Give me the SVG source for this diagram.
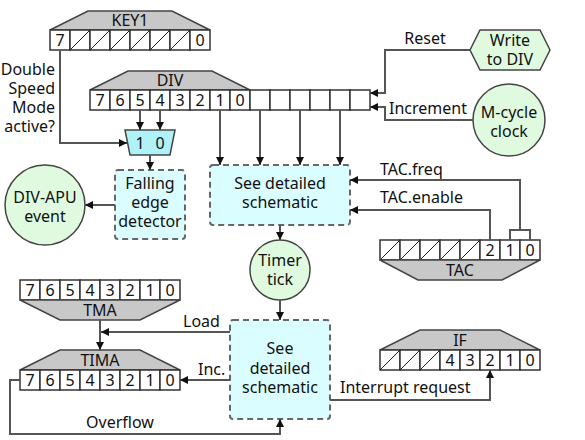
<svg xmlns="http://www.w3.org/2000/svg" width="585" height="440" viewBox="0 0 585 440">
<defs>
<marker id="ah" viewBox="0 0 8 8" refX="8" refY="4" markerWidth="8" markerHeight="8" markerUnits="userSpaceOnUse" orient="auto"><path d="M0,0 L8,4 L0,8 z" fill="#111"/></marker>
</defs>
<style>
text{font-family:"Noto Sans","Open Sans","DejaVu Sans",sans-serif;font-size:16px;fill:#111;text-anchor:middle}
.l{text-anchor:start}
.r{text-anchor:end}
.cell{fill:#fff;stroke:#333;stroke-width:1.5}
.hdr{fill:#c8c8c8;stroke:#444;stroke-width:1.5}
.sl{stroke:#222;stroke-width:1}
.box{fill:#dafdff;stroke:#666;stroke-width:2;stroke-dasharray:6,4}
.ev{fill:#dffadf;stroke:#444;stroke-width:1.5}
.mux{fill:#aff3f8;stroke:#444;stroke-width:1.5}
.w{fill:none;stroke:#555;stroke-width:2}
.a{marker-end:url(#ah)}
</style>

<g id="KEY1">
<polygon class="hdr" points="50,30 88,11 172,11 210,30"/>
<text x="130" y="26">KEY1</text>
<rect class="cell" x="50" y="30" width="20" height="20"/>
<rect class="cell" x="70" y="30" width="20" height="20"/>
<rect class="cell" x="90" y="30" width="20" height="20"/>
<rect class="cell" x="110" y="30" width="20" height="20"/>
<rect class="cell" x="130" y="30" width="20" height="20"/>
<rect class="cell" x="150" y="30" width="20" height="20"/>
<rect class="cell" x="170" y="30" width="20" height="20"/>
<rect class="cell" x="190" y="30" width="20" height="20"/>
<path class="sl" d="M70,50L90,30M90,50L110,30M110,50L130,30M130,50L150,30M150,50L170,30M170,50L190,30"/>
<text x="60" y="46">7</text><text x="200" y="46">0</text>
</g>

<g id="DIV">
<polygon class="hdr" points="90,90 128,71 212,71 250,90"/>
<text x="170" y="86">DIV</text>
<rect class="cell" x="90" y="90" width="20" height="20"/>
<rect class="cell" x="110" y="90" width="20" height="20"/>
<rect class="cell" x="130" y="90" width="20" height="20"/>
<rect class="cell" x="150" y="90" width="20" height="20"/>
<rect class="cell" x="170" y="90" width="20" height="20"/>
<rect class="cell" x="190" y="90" width="20" height="20"/>
<rect class="cell" x="210" y="90" width="20" height="20"/>
<rect class="cell" x="230" y="90" width="20" height="20"/>
<rect class="cell" x="250" y="90" width="20" height="20"/>
<rect class="cell" x="270" y="90" width="20" height="20"/>
<rect class="cell" x="290" y="90" width="20" height="20"/>
<rect class="cell" x="310" y="90" width="20" height="20"/>
<rect class="cell" x="330" y="90" width="20" height="20"/>
<rect class="cell" x="350" y="90" width="20" height="20"/>
<text x="100" y="106">7</text><text x="120" y="106">6</text><text x="140" y="106">5</text><text x="160" y="106">4</text>
<text x="180" y="106">3</text><text x="200" y="106">2</text><text x="220" y="106">1</text><text x="240" y="106">0</text>
</g>

<g id="TAC">
<rect class="cell" x="380" y="240" width="20" height="20"/>
<rect class="cell" x="400" y="240" width="20" height="20"/>
<rect class="cell" x="420" y="240" width="20" height="20"/>
<rect class="cell" x="440" y="240" width="20" height="20"/>
<rect class="cell" x="460" y="240" width="20" height="20"/>
<rect class="cell" x="480" y="240" width="20" height="20"/>
<rect class="cell" x="500" y="240" width="20" height="20"/>
<rect class="cell" x="520" y="240" width="20" height="20"/>
<path class="sl" d="M380,260L400,240M400,260L420,240M420,260L440,240M440,260L460,240M460,260L480,240"/>
<text x="490" y="256">2</text><text x="510" y="256">1</text><text x="530" y="256">0</text>
<polygon class="hdr" points="380,260 540,260 502,280 418,280"/>
<text x="460" y="276">TAC</text>
</g>

<g id="TMA">
<rect class="cell" x="20" y="280" width="20" height="20"/>
<rect class="cell" x="40" y="280" width="20" height="20"/>
<rect class="cell" x="60" y="280" width="20" height="20"/>
<rect class="cell" x="80" y="280" width="20" height="20"/>
<rect class="cell" x="100" y="280" width="20" height="20"/>
<rect class="cell" x="120" y="280" width="20" height="20"/>
<rect class="cell" x="140" y="280" width="20" height="20"/>
<rect class="cell" x="160" y="280" width="20" height="20"/>
<text x="30" y="296">7</text><text x="50" y="296">6</text><text x="70" y="296">5</text><text x="90" y="296">4</text>
<text x="110" y="296">3</text><text x="130" y="296">2</text><text x="150" y="296">1</text><text x="170" y="296">0</text>
<polygon class="hdr" points="20,300 180,300 140,320 60,320"/>
<text x="100" y="316">TMA</text>
</g>

<g id="TIMA">
<polygon class="hdr" points="20,370 60,350 140,350 180,370"/>
<text x="100" y="366">TIMA</text>
<rect class="cell" x="20" y="370" width="20" height="20"/>
<rect class="cell" x="40" y="370" width="20" height="20"/>
<rect class="cell" x="60" y="370" width="20" height="20"/>
<rect class="cell" x="80" y="370" width="20" height="20"/>
<rect class="cell" x="100" y="370" width="20" height="20"/>
<rect class="cell" x="120" y="370" width="20" height="20"/>
<rect class="cell" x="140" y="370" width="20" height="20"/>
<rect class="cell" x="160" y="370" width="20" height="20"/>
<text x="30" y="386">7</text><text x="50" y="386">6</text><text x="70" y="386">5</text><text x="90" y="386">4</text>
<text x="110" y="386">3</text><text x="130" y="386">2</text><text x="150" y="386">1</text><text x="170" y="386">0</text>
</g>

<g id="IF">
<polygon class="hdr" points="380,350 420,330 500,330 540,350"/>
<text x="460" y="346">IF</text>
<rect class="cell" x="380" y="350" width="20" height="20"/>
<rect class="cell" x="400" y="350" width="20" height="20"/>
<rect class="cell" x="420" y="350" width="20" height="20"/>
<rect class="cell" x="440" y="350" width="20" height="20"/>
<rect class="cell" x="460" y="350" width="20" height="20"/>
<rect class="cell" x="480" y="350" width="20" height="20"/>
<rect class="cell" x="500" y="350" width="20" height="20"/>
<rect class="cell" x="520" y="350" width="20" height="20"/>
<path class="sl" d="M380,370L400,350M400,370L420,350M420,370L440,350"/>
<text x="450" y="366">4</text><text x="470" y="366">3</text><text x="490" y="366">2</text><text x="510" y="366">1</text><text x="530" y="366">0</text>
</g>

<g id="mux">
<polygon class="mux" points="125,130 175,130 170,155 130,155"/>
<text x="140" y="149">1</text><text x="160" y="149">0</text>
</g>

<g id="falling-edge">
<rect class="box" x="115" y="170" width="70" height="69" rx="3"/>
<text x="150" y="189">Falling</text><text x="150" y="208">edge</text><text x="150" y="227">detector</text>
</g>

<g id="div-apu">
<circle class="ev" cx="45" cy="205" r="40"/>
<text x="45" y="203">DIV-APU</text><text x="45" y="222">event</text>
</g>

<g id="schematic1">
<rect class="box" x="210" y="165" width="140" height="60" rx="3"/>
<text x="280" y="189">See detailed</text><text x="280" y="208">schematic</text>
</g>

<g id="timer-tick">
<circle class="ev" cx="280" cy="270" r="30"/>
<text x="280" y="266">Timer</text><text x="280" y="285">tick</text>
</g>

<g id="schematic2">
<rect class="box" x="230" y="320" width="100" height="99" rx="3"/>
<text x="280" y="354">See</text><text x="280" y="374">detailed</text><text x="280" y="393">schematic</text>
</g>

<g id="write-div">
<polygon class="ev" points="470,50 480,30 540,30 550,50 540,70 480,70"/>
<text x="510" y="46">Write</text><text x="510" y="65">to DIV</text>
</g>

<g id="mcycle">
<circle class="ev" cx="509" cy="120" r="36"/>
<text x="509" y="118">M-cycle</text><text x="509" y="137">clock</text>
</g>

<g id="connectors">
<polyline class="w a" points="60,50 60,143 127,143"/>
<line class="w a" x1="140" y1="110" x2="140" y2="130"/>
<line class="w a" x1="160" y1="110" x2="160" y2="130"/>
<line class="w a" x1="150" y1="155" x2="150" y2="170"/>
<line class="w a" x1="115" y1="205" x2="85" y2="205"/>
<line class="w a" x1="220" y1="110" x2="220" y2="165"/>
<line class="w a" x1="260" y1="110" x2="260" y2="165"/>
<line class="w a" x1="300" y1="110" x2="300" y2="165"/>
<line class="w a" x1="340" y1="110" x2="340" y2="165"/>
<polyline class="w a" points="470,50 385,50 385,93 370,93"/>
<polyline class="w a" points="473,120 385,120 385,107 370,107"/>
<polyline class="w" points="510,240 510,230 530,230 530,240"/>
<polyline class="w a" points="520,230 520,180 350,180"/>
<polyline class="w a" points="490,240 490,210 350,210"/>
<line class="w a" x1="280" y1="225" x2="280" y2="240"/>
<line class="w a" x1="280" y1="300" x2="280" y2="320"/>
<line class="w a" x1="100" y1="320" x2="100" y2="350"/>
<line class="w a" x1="230" y1="332" x2="101" y2="332"/>
<line class="w a" x1="230" y1="380" x2="180" y2="380"/>
<polyline class="w a" points="20,380 10,380 10,434 280,434 280,419"/>
<polyline class="w a" points="330,400 490,400 490,370"/>
</g>

<g id="labels">
<text class="r" x="55" y="75">Double</text>
<text class="r" x="55" y="94">Speed</text>
<text class="r" x="55" y="113">Mode</text>
<text class="r" x="55" y="132">active?</text>
<text x="425" y="44">Reset</text>
<text class="l" x="389" y="114">Increment</text>
<text class="l" x="380" y="175">TAC.freq</text>
<text class="l" x="380" y="203">TAC.enable</text>
<text class="l" x="183" y="327">Load</text>
<text class="l" x="198" y="375">Inc.</text>
<text x="120" y="428">Overflow</text>
<text class="l" x="340" y="393">Interrupt request</text>
</g>
</svg>
